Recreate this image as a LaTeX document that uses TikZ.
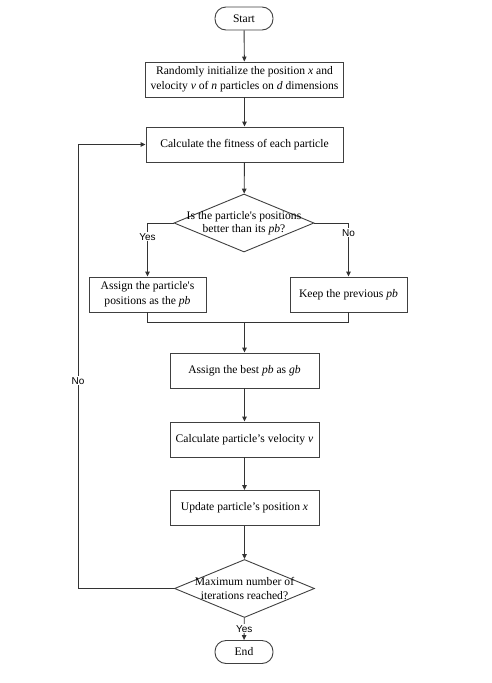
\documentclass[tikz,border=0pt]{standalone}
\usepackage{fontspec}
\setmainfont{Liberation Serif}
\newfontfamily\labelfont{Liberation Sans}
\usetikzlibrary{shapes.geometric, arrows.meta}

\begin{document}
\begin{tikzpicture}[x=1pt, y=-1pt]
    \tikzset{process/.style={draw=black!75, line width=0.9pt, fill=white, align=center,
            minimum height=35pt, inner sep=2pt, font=\fontsize{11.6}{15}\selectfont},
        terminal/.style={process, rounded corners=11pt, minimum width=58pt, minimum height=23pt},
        decision/.style={draw=black!75, line width=0.9pt, diamond, minimum width=140pt,
            minimum height=58pt, inner sep=0pt},
        question/.style={align=center, inner sep=0pt, font=\fontsize{11.6}{13.5}\selectfont},
        flow/.style={-{Triangle[length=5pt, width=4.5pt]}, draw=black!80, line width=0.9pt},
        line/.style={draw=black!80, line width=0.9pt},
        branch/.style={fill=white, inner sep=1pt, font=\labelfont\fontsize{10}{11}\selectfont}}
    \useasboundingbox (0,0) rectangle (492,683);
    % nodes
    \node[terminal] (start) at (244,18.5) {Start};
    \node[process, minimum width=198pt] (init) at (244.5,79.5)
        {Randomly initialize the position \textit{x} and\\velocity \textit{v} of \textit{n} particles on \textit{d} dimensions};
    \node[process, minimum width=197pt] (fit) at (244.5,144.5) {Calculate the fitness of each particle};
    \node[decision, label={[question]center:Is the particle\textquotesingle s positions\\better than its \textit{pb}?}]
        (better) at (244,223) {};
    \node[process, minimum width=117pt] (assign) at (147.5,294.5)
        {Assign the particle\textquotesingle s\\positions as the \textit{pb}};
    \node[process, minimum width=117pt] (keep) at (348.5,294.5) {Keep the previous \textit{pb}};
    \coordinate (merge) at (244.5,322);
    \node[process, minimum width=149pt] (best) at (244.5,370.5) {Assign the best \textit{pb} as \textit{gb}};
    \node[process, minimum width=149pt] (velo) at (244.5,439.5) {Calculate particle's velocity \textit{v}};
    \node[process, minimum width=149pt] (update) at (244.5,508) {Update particle's position \textit{x}};
    \node[decision, label={[question]center:Maximum number of\\iterations reached?}]
        (maxit) at (244.5,588.5) {};
    \node[terminal] (end) at (244,652) {End};
    \coordinate (loop) at (78,588.5);
    % connectors
    \draw[flow] (start) -- (init);
    \draw[flow] (init) -- (fit);
    \draw[flow] (fit) -- (better);
    \draw[flow] (better.west) -| node[branch, pos=0.63] {Yes} (assign);
    \draw[flow] (better.east) -| node[branch, pos=0.59] {No} (keep);
    \draw[line] (assign) |- (merge);
    \draw[line] (keep) |- (merge);
    \draw[flow] (merge) -- (best);
    \draw[flow] (best) -- (velo);
    \draw[flow] (velo) -- (update);
    \draw[flow] (update) -- (maxit);
    \draw[flow] (maxit.west) -- (loop) |- node[branch, pos=0.234] {No} (fit.west);
    \draw[flow] (maxit) -- node[branch] {Yes} (end);
\end{tikzpicture}
\end{document}
